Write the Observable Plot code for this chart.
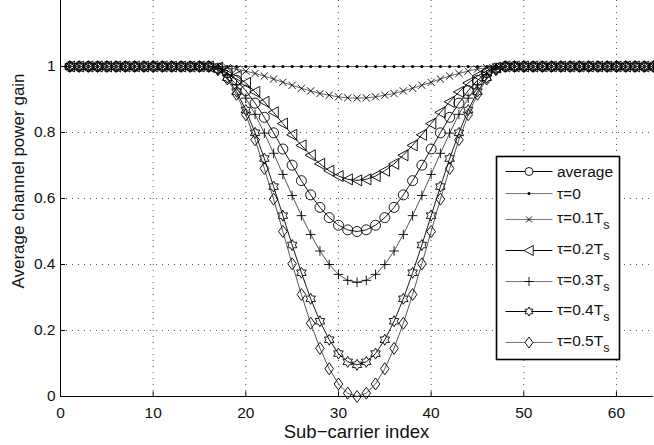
<!DOCTYPE html>
<html>
<head>
<meta charset="utf-8">
<script src="https://cdn.jsdelivr.net/npm/d3@7"></script>
<script src="https://cdn.jsdelivr.net/npm/@observablehq/plot@0.6"></script>
<style>
  html, body { margin: 0; padding: 0; background: #fff; }
  #chart { position: relative; width: 654px; height: 445px; }
  svg { font-family: "Liberation Sans", Arial, Helvetica, sans-serif; }
</style>
</head>
<body>
<div id="chart"></div>
<script>
// ---- data ----
const subcarrier = [1,2,3,4,5,6,7,8,9,10,11,12,13,14,15,16,17,18,19,20,21,22,23,24,25,26,27,28,29,30,31,32,
  33,34,35,36,37,38,39,40,41,42,43,44,45,46,47,48,49,50,51,52,53,54,55,56,57,58,59,60,61,62,63,64];

const average = [1,1,1,1,1,1,1,1,1,1,1,1,1,1,1,1,
  0.995,0.981,0.958,0.927,0.889,0.846,0.799,0.750,0.701,0.654,0.611,0.573,0.542,0.519,0.505,
  0.500,
  0.505,0.519,0.542,0.573,0.611,0.654,0.701,0.750,0.799,0.846,0.889,0.927,0.958,0.981,0.995,
  1,1,1,1,1,1,1,1,1,1,1,1,1,1,1,1,1];

const tau00 = [1,1,1,1,1,1,1,1,1,1,1,1,1,1,1,1,1,1,1,1,1,1,1,1,1,1,1,1,1,1,1,1,
  1,1,1,1,1,1,1,1,1,1,1,1,1,1,1,1,1,1,1,1,1,1,1,1,1,1,1,1,1,1,1,1];

const tau01 = [1,1,1,1,1,1,1,1,1,1,1,1,1,1,1,1,
  0.999,0.996,0.992,0.986,0.979,0.971,0.962,0.952,0.943,0.934,0.926,0.918,0.913,0.908,0.905,
  0.904,
  0.905,0.908,0.913,0.918,0.926,0.934,0.943,0.952,0.962,0.971,0.979,0.986,0.992,0.996,0.999,
  1,1,1,1,1,1,1,1,1,1,1,1,1,1,1,1,1];

const tau02 = [1,1,1,1,1,1,1,1,1,1,1,1,1,1,1,1,
  0.997,0.987,0.971,0.950,0.923,0.893,0.861,0.827,0.793,0.761,0.731,0.705,0.684,0.668,0.658,
  0.655,
  0.658,0.668,0.684,0.705,0.731,0.761,0.793,0.827,0.861,0.893,0.923,0.950,0.971,0.987,0.997,
  1,1,1,1,1,1,1,1,1,1,1,1,1,1,1,1,1];

const tau03 = [1,1,1,1,1,1,1,1,1,1,1,1,1,1,1,1,
  0.993,0.975,0.945,0.904,0.855,0.798,0.737,0.673,0.609,0.548,0.491,0.441,0.400,0.370,0.352,
  0.346,
  0.352,0.370,0.400,0.441,0.491,0.548,0.609,0.673,0.737,0.798,0.855,0.904,0.945,0.975,0.993,
  1,1,1,1,1,1,1,1,1,1,1,1,1,1,1,1,1];

const tau04 = [1,1,1,1,1,1,1,1,1,1,1,1,1,1,1,1,
  0.991,0.966,0.924,0.868,0.799,0.721,0.636,0.548,0.459,0.375,0.296,0.228,0.172,0.130,0.105,
  0.096,
  0.105,0.130,0.172,0.228,0.296,0.375,0.459,0.548,0.636,0.721,0.799,0.868,0.924,0.966,0.991,
  1,1,1,1,1,1,1,1,1,1,1,1,1,1,1,1,1];

const tau05 = [1,1,1,1,1,1,1,1,1,1,1,1,1,1,1,1,
  0.990,0.962,0.916,0.854,0.778,0.691,0.598,0.500,0.402,0.309,0.222,0.146,0.084,0.038,0.010,
  0.000,
  0.010,0.038,0.084,0.146,0.222,0.309,0.402,0.500,0.598,0.691,0.778,0.854,0.916,0.962,0.990,
  1,1,1,1,1,1,1,1,1,1,1,1,1,1,1,1,1];

const xTicks = [0, 10, 20, 30, 40, 50, 60];
const yTicks = [0, 0.2, 0.4, 0.6, 0.8, 1];
const legendNames = ["average", "τ=0", "τ=0.1T", "τ=0.2T", "τ=0.3T", "τ=0.4T", "τ=0.5T"];
const legendSubs  = ["", "", "s", "s", "s", "s", "s"];
const xLabel = "Sub−carrier index";
const yLabel = "Average channel power gain";

// ---- marker shapes ----
const rad = s => Math.sqrt(s / Math.PI);
const symCircle = {draw(c, s) { const r = rad(s); c.moveTo(r, 0); c.arc(0, 0, r, 0, 2 * Math.PI); }};
const symDot = {draw(c, s) { const r = rad(s); c.moveTo(r, 0); c.arc(0, 0, r, 0, 2 * Math.PI); }};
const symTimes = {draw(c, s) { const r = rad(s); c.moveTo(-r, -r); c.lineTo(r, r); c.moveTo(-r, r); c.lineTo(r, -r); }};
const symTriLeft = {draw(c, s) { const r = rad(s); c.moveTo(-r, 0); c.lineTo(r * 0.85, -r); c.lineTo(r * 0.85, r); c.closePath(); }};
const symPlus = {draw(c, s) { const r = rad(s); c.moveTo(-r, 0); c.lineTo(r, 0); c.moveTo(0, -r); c.lineTo(0, r); }};
const symHexagram = {draw(c, s) {
  const R = rad(s), ri = R / Math.sqrt(3);
  for (let k = 0; k < 12; k++) {
    const a = -Math.PI / 2 + k * Math.PI / 6, rr = k % 2 === 0 ? R : ri;
    const px = rr * Math.cos(a), py = rr * Math.sin(a);
    if (k === 0) c.moveTo(px, py); else c.lineTo(px, py);
  }
  c.closePath();
}};
const symDiamond = {draw(c, s) { const r = rad(s); c.moveTo(0, -r); c.lineTo(r * 0.72, 0); c.lineTo(0, r); c.lineTo(-r * 0.72, 0); c.closePath(); }};

const series = [
  {values: average, symbol: symCircle,   r: 5,   lr: 4,   line: "#000", fill: "none"},
  {values: tau00,   symbol: symDot,      r: 1.6, lr: 1.5, line: "#555", fill: "#000"},
  {values: tau01,   symbol: symTimes,    r: 3.6, lr: 3,   line: "#555", fill: "none"},
  {values: tau02,   symbol: symTriLeft,  r: 5.5, lr: 5,   line: "#000", fill: "none"},
  {values: tau03,   symbol: symPlus,     r: 4.8, lr: 4.5, line: "#444", fill: "none"},
  {values: tau04,   symbol: symHexagram, r: 5.5, lr: 4.5, line: "#000", fill: "none"},
  {values: tau05,   symbol: symDiamond,  r: 6,   lr: 5.5, line: "#444", fill: "none"}
];

const font = '"Liberation Sans", Arial, Helvetica, sans-serif';
const gridStyle = {stroke: "#555", strokeWidth: 1, strokeDasharray: "1,5"};

const marks = [
  Plot.ruleX(xTicks.filter(d => d > 0), gridStyle),
  Plot.ruleY(yTicks.filter(d => d > 0), gridStyle),
  Plot.ruleX([0], {stroke: "#000", strokeWidth: 1}),
  Plot.ruleY([0], {stroke: "#000", strokeWidth: 1}),
  Plot.ruleX(xTicks, {y1: 0, y2: 0.014, stroke: "#000", strokeWidth: 1}),
  Plot.ruleY(yTicks, {x1: 0, x2: 0.55, stroke: "#000", strokeWidth: 1})
];

series.forEach((s) => {
  const rows = subcarrier.map((x, i) => ({x, y: s.values[i]}));
  marks.push(Plot.line(rows, {x: "x", y: "y", stroke: s.line, strokeWidth: 0.9}));
  marks.push(Plot.dot(rows, {x: "x", y: "y", symbol: s.symbol, r: s.r,
    stroke: s.fill === "none" ? "#000" : "none", fill: s.fill, strokeWidth: 0.9}));
});

const chart = Plot.plot({
  width: 654,
  height: 445,
  marginLeft: 60,
  marginRight: 1,
  marginTop: 0,
  marginBottom: 49,
  style: {fontSize: "15.5px", fontFamily: font, background: "#fff", color: "#111", overflow: "visible"},
  x: {domain: [0, 64], ticks: xTicks, tickSize: 0, tickPadding: 10, label: null, tickFormat: d => String(d)},
  y: {domain: [0, 1.2], ticks: yTicks, tickSize: 0, tickPadding: 5, label: null, tickFormat: d => String(d)},
  marks
});

document.getElementById("chart").appendChild(chart);

// axis titles
const svg = d3.select(chart);
svg.append("text")
  .attr("x", 356.5).attr("y", 437.5)
  .attr("text-anchor", "middle")
  .attr("font-size", "18.5px").attr("font-family", font).attr("fill", "#111")
  .text(xLabel);
svg.append("text")
  .attr("transform", "translate(24,181) rotate(-90)")
  .attr("text-anchor", "middle")
  .attr("font-size", "17px").attr("font-family", font).attr("fill", "#111")
  .text(yLabel);

// legend
const lg = svg.append("g").attr("transform", "translate(496.5,156.5)");
lg.append("rect").attr("width", 123).attr("height", 203)
  .attr("fill", "#fff").attr("stroke", "#000").attr("stroke-width", 1.6);
const rowY = [15, 37, 63, 94, 125, 155, 186];
series.forEach((s, i) => {
  const y = rowY[i];
  lg.append("line").attr("x1", 9).attr("x2", 56).attr("y1", y).attr("y2", y)
    .attr("stroke", s.line === "#000" ? "#000" : "#777").attr("stroke-width", 1);
  lg.append("path")
    .attr("transform", `translate(32.5,${y})`)
    .attr("d", d3.symbol(s.symbol, s.lr * s.lr * Math.PI)())
    .attr("fill", s.fill === "none" ? "#fff" : s.fill)
    .attr("stroke", s.fill === "none" ? "#000" : "none")
    .attr("stroke-width", 0.9);
  const t = lg.append("text")
    .attr("x", 60.5)
    .attr("y", y + (legendSubs[i] ? 3 : 5.5))
    .attr("text-anchor", "start")
    .attr("font-size", "15.5px").attr("font-family", font).attr("fill", "#111");
  t.append("tspan").text(legendNames[i]);
  if (legendSubs[i]) {
    t.append("tspan").attr("dy", 6).attr("font-size", "12.5px").text(legendSubs[i]);
  }
});
</script>
</body>
</html>
